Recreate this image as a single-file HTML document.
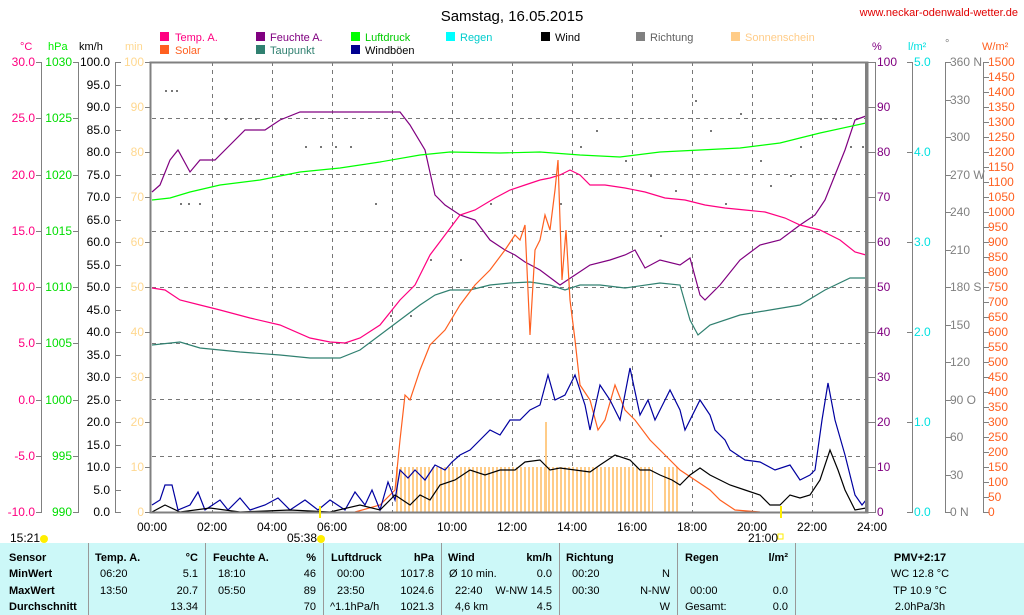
<!DOCTYPE html>
<html><head><meta charset="utf-8"><style>
body{margin:0;background:#fff;width:1024px;height:615px;overflow:hidden;font-family:"Liberation Sans",sans-serif}
svg{position:absolute;left:0;top:0}
text{font-family:"Liberation Sans",sans-serif;font-size:12px}
</style></head><body>
<svg width="1024" height="615" viewBox="0 0 1024 615">
<defs>
<pattern id="sun" width="4" height="10" patternUnits="userSpaceOnUse"><rect x="0" y="0" width="2" height="10" fill="#ffcc88"/></pattern>
</defs>
<text x="512" y="21" font-size="15" text-anchor="middle" style="font-size:15px">Samstag, 16.05.2015</text>
<text x="1018" y="16" text-anchor="end" fill="#e00000" style="font-size:11px">www.neckar-odenwald-wetter.de</text>
<!-- legend -->
<g style="font-size:11px">
<rect x="160" y="32" width="9" height="9" fill="#ff0080"/><text x="175" y="41" fill="#ff0080" style="font-size:11px">Temp. A.</text>
<rect x="256" y="32" width="9" height="9" fill="#800080"/><text x="270" y="41" fill="#800080" style="font-size:11px">Feuchte A.</text>
<rect x="351" y="32" width="9" height="9" fill="#00ff00"/><text x="365" y="41" fill="#00cc00" style="font-size:11px">Luftdruck</text>
<rect x="446" y="32" width="9" height="9" fill="#00ffff"/><text x="460" y="41" fill="#00cccc" style="font-size:11px">Regen</text>
<rect x="541" y="32" width="9" height="9" fill="#000"/><text x="555" y="41" style="font-size:11px">Wind</text>
<rect x="636" y="32" width="9" height="9" fill="#808080"/><text x="650" y="41" fill="#606060" style="font-size:11px">Richtung</text>
<rect x="731" y="32" width="9" height="9" fill="#ffcc88"/><text x="745" y="41" fill="#ffcc88" style="font-size:11px">Sonnenschein</text>
<rect x="160" y="45" width="9" height="9" fill="#ff6020"/><text x="175" y="54" fill="#ff6020" style="font-size:11px">Solar</text>
<rect x="256" y="45" width="9" height="9" fill="#308070"/><text x="270" y="54" fill="#308070" style="font-size:11px">Taupunkt</text>
<rect x="351" y="45" width="9" height="9" fill="#000090"/><text x="365" y="54" style="font-size:11px">Windböen</text>
</g>
<!-- axis titles -->
<text x="20" y="50" fill="#ff0080" style="font-size:11px">°C</text>
<text x="48" y="50" fill="#00ee00" style="font-size:11px">hPa</text>
<text x="79" y="50" style="font-size:11px">km/h</text>
<text x="125" y="50" fill="#ffd890" style="font-size:11px">min</text>
<text x="872" y="50" fill="#800080" style="font-size:11px">%</text>
<text x="908" y="50" fill="#00e0e0" style="font-size:11px">l/m²</text>
<text x="945" y="47" fill="#808080" style="font-size:11px">°</text>
<text x="982" y="50" fill="#ff6020" style="font-size:11px">W/m²</text>
<!-- grid -->
<g stroke="#777" stroke-dasharray="4,4" stroke-width="1">
<line x1="152" y1="118.5" x2="868" y2="118.5"/><line x1="152" y1="174.5" x2="868" y2="174.5"/><line x1="152" y1="231.5" x2="868" y2="231.5"/><line x1="152" y1="287.5" x2="868" y2="287.5"/><line x1="152" y1="343.5" x2="868" y2="343.5"/><line x1="152" y1="399.5" x2="868" y2="399.5"/><line x1="152" y1="456.5" x2="868" y2="456.5"/>
<line x1="212.5" y1="62" x2="212.5" y2="512"/><line x1="272.5" y1="62" x2="272.5" y2="512"/><line x1="332.5" y1="62" x2="332.5" y2="512"/><line x1="392.5" y1="62" x2="392.5" y2="512"/><line x1="452.5" y1="62" x2="452.5" y2="512"/><line x1="512.5" y1="62" x2="512.5" y2="512"/><line x1="572.5" y1="62" x2="572.5" y2="512"/><line x1="632.5" y1="62" x2="632.5" y2="512"/><line x1="692.5" y1="62" x2="692.5" y2="512"/><line x1="752.5" y1="62" x2="752.5" y2="512"/><line x1="812.5" y1="62" x2="812.5" y2="512"/>
</g>
<!-- sunshine -->
<rect x="395" y="467" width="258" height="45" fill="url(#sun)"/>
<rect x="663" y="467" width="16" height="45" fill="url(#sun)"/>
<rect x="545" y="422" width="2" height="90" fill="#ffcc88"/>
<!-- direction dots -->
<g fill="#777">
<rect x="165" y="90" width="2" height="2"/><rect x="171" y="90" width="2" height="2"/><rect x="176" y="90" width="2" height="2"/><rect x="180" y="203" width="2" height="2"/><rect x="188" y="203" width="2" height="2"/><rect x="199" y="203" width="2" height="2"/><rect x="225" y="118" width="2" height="2"/><rect x="240" y="118" width="2" height="2"/><rect x="255" y="118" width="2" height="2"/><rect x="305" y="146" width="2" height="2"/><rect x="320" y="146" width="2" height="2"/><rect x="335" y="146" width="2" height="2"/><rect x="350" y="146" width="2" height="2"/><rect x="375" y="203" width="2" height="2"/><rect x="390" y="315" width="2" height="2"/><rect x="410" y="315" width="2" height="2"/><rect x="430" y="259" width="2" height="2"/><rect x="460" y="259" width="2" height="2"/><rect x="490" y="203" width="2" height="2"/><rect x="560" y="203" width="2" height="2"/><rect x="580" y="146" width="2" height="2"/><rect x="596" y="130" width="2" height="2"/><rect x="625" y="160" width="2" height="2"/><rect x="650" y="175" width="2" height="2"/><rect x="660" y="235" width="2" height="2"/><rect x="675" y="190" width="2" height="2"/><rect x="695" y="100" width="2" height="2"/><rect x="710" y="130" width="2" height="2"/><rect x="725" y="203" width="2" height="2"/><rect x="740" y="113" width="2" height="2"/><rect x="760" y="160" width="2" height="2"/><rect x="770" y="185" width="2" height="2"/><rect x="790" y="175" width="2" height="2"/><rect x="800" y="146" width="2" height="2"/><rect x="820" y="118" width="2" height="2"/><rect x="835" y="118" width="2" height="2"/><rect x="850" y="146" width="2" height="2"/><rect x="862" y="146" width="2" height="2"/>
</g>
<g fill="none" stroke-width="1.2">
<polyline stroke="#800080" points="152,192 160,185 170,160 178,150 190,172 200,160 215,160 230,145 245,130 265,130 280,120 300,112 330,112 360,112 400,112 410,125 425,150 435,195 445,205 460,215 475,220 490,240 505,250 515,255 525,262 540,270 560,285 575,275 590,265 610,260 625,255 635,250 645,268 660,260 680,265 690,258 700,295 705,300 720,285 740,260 760,245 780,240 800,225 815,215 825,200 835,175 845,150 855,120 866,116"/>
<polyline stroke="#ff0080" points="152,288 165,290 180,300 200,305 220,310 250,318 280,325 310,338 330,342 345,343 360,338 380,325 400,300 415,285 430,255 445,235 460,215 475,210 495,198 510,190 525,185 540,180 550,178 560,175 570,170 580,175 590,185 605,185 625,188 645,192 665,198 685,200 705,205 725,208 745,210 765,212 785,218 800,225 820,230 840,240 855,252 866,255"/>
<polyline stroke="#00ff00" points="152,200 170,198 190,192 220,185 260,180 300,172 340,168 380,162 420,155 450,152 500,153 540,152 580,155 620,157 660,152 700,150 740,148 780,143 820,133 866,123"/>
<polyline stroke="#308070" points="152,345 180,342 200,348 240,352 280,355 310,358 340,358 360,350 380,335 400,320 420,305 435,295 450,290 470,290 490,285 510,283 530,282 550,285 565,290 580,285 600,285 625,288 660,283 680,285 690,320 698,335 710,325 740,315 770,310 800,305 825,290 850,278 866,278"/>
<polyline stroke="#ff6020" points="355,512 380,505 395,490 400,440 405,395 410,400 420,370 430,345 445,330 460,305 475,285 490,270 505,250 515,235 520,240 525,225 530,335 535,250 540,240 545,215 550,230 555,190 558,160 562,280 566,230 570,300 575,340 580,385 590,400 598,430 605,420 615,385 625,410 635,420 650,440 665,455 680,470 695,480 710,490 720,500 735,510 760,512"/>
<polyline stroke="#0000a0" points="152,505 160,500 165,485 172,485 178,510 190,505 198,492 205,510 220,500 228,510 240,498 250,510 265,505 278,498 290,510 305,500 318,510 330,500 345,510 355,492 365,505 372,490 380,510 388,482 395,500 400,470 408,478 415,470 425,480 435,465 445,470 452,462 460,455 470,450 480,440 490,430 500,435 510,420 520,420 530,410 540,405 548,375 555,400 565,395 575,375 585,405 590,430 600,385 610,400 620,420 630,368 640,415 648,400 655,420 665,400 670,390 680,410 685,430 700,400 710,415 715,430 725,440 730,450 745,460 760,462 775,470 790,465 800,480 810,475 815,470 822,420 828,383 835,420 845,455 855,495 862,505 866,500"/>
<polyline stroke="#000" points="152,512 165,505 180,512 210,508 240,512 290,510 330,512 360,505 380,510 395,495 410,505 420,495 430,500 440,485 455,480 470,470 485,475 500,470 515,470 525,462 540,460 550,470 560,468 575,470 590,472 600,465 615,455 630,460 640,470 650,470 660,475 672,480 680,485 690,475 700,468 710,475 720,480 730,485 745,490 760,495 770,505 780,505 790,495 800,498 810,495 820,480 830,450 838,470 845,490 855,510 866,508"/>
</g>
<!-- frame -->
<g stroke="#808080" fill="none">
<rect x="150.5" y="62.5" width="717" height="450" stroke-width="2"/>
<line x1="866" y1="62" x2="866" y2="512" stroke-width="2"/>
</g>
<!-- axes -->
<g stroke="#808080" stroke-width="1">
<line x1="41.5" y1="62" x2="41.5" y2="512"/><line x1="78.5" y1="62" x2="78.5" y2="512"/><line x1="115.5" y1="62" x2="115.5" y2="512"/>
<line x1="875.5" y1="62" x2="875.5" y2="512"/><line x1="912.5" y1="62" x2="912.5" y2="512"/><line x1="945.5" y1="62" x2="945.5" y2="512"/><line x1="983.5" y1="62" x2="983.5" y2="512"/>
</g>
<g id="ticks" stroke="#808080"></g>
<g id="labels"></g>
<!-- x labels -->
<g text-anchor="middle">
<text x="152" y="531">00:00</text><text x="212" y="531">02:00</text><text x="272" y="531">04:00</text><text x="332" y="531">06:00</text><text x="392" y="531">08:00</text><text x="452" y="531">10:00</text><text x="512" y="531">12:00</text><text x="572" y="531">14:00</text><text x="632" y="531">16:00</text><text x="692" y="531">18:00</text><text x="752" y="531">20:00</text><text x="812" y="531">22:00</text><text x="872" y="531">24:00</text>
</g>
<rect x="319" y="506" width="2" height="12" fill="#ffee00"/>
<rect x="780" y="506" width="2" height="12" fill="#ffee00"/>
<text x="10" y="542">15:21</text><circle cx="44" cy="539" r="4" fill="#ffee00"/>
<text x="287" y="542">05:38</text><circle cx="321" cy="539" r="4" fill="#ffee00"/>
<text x="748" y="542">21:00</text><rect x="778" y="534" width="5" height="5" fill="none" stroke="#ffee00"/>
<!-- table -->
<rect x="0" y="543" width="1024" height="72" fill="#ccf8f8"/>
<g stroke="#999" stroke-width="1"><line x1="88.5" y1="543" x2="88.5" y2="615"/><line x1="205.5" y1="543" x2="205.5" y2="615"/><line x1="323.5" y1="543" x2="323.5" y2="615"/><line x1="441.5" y1="543" x2="441.5" y2="615"/><line x1="559.5" y1="543" x2="559.5" y2="615"/><line x1="677.5" y1="543" x2="677.5" y2="615"/><line x1="795.5" y1="543" x2="795.5" y2="615"/></g>
<g style="font-size:11px">
<g font-weight="bold"><text x="9" y="561" style="font-size:11px;font-weight:bold">Sensor</text><text x="9" y="577" style="font-size:11px;font-weight:bold">MinWert</text><text x="9" y="594" style="font-size:11px;font-weight:bold">MaxWert</text><text x="9" y="610" style="font-size:11px;font-weight:bold">Durchschnitt</text>
<text x="95" y="561" style="font-size:11px;font-weight:bold">Temp. A.</text><text x="198" y="561" text-anchor="end" style="font-size:11px;font-weight:bold">°C</text>
<text x="213" y="561" style="font-size:11px;font-weight:bold">Feuchte A.</text><text x="316" y="561" text-anchor="end" style="font-size:11px;font-weight:bold">%</text>
<text x="331" y="561" style="font-size:11px;font-weight:bold">Luftdruck</text><text x="434" y="561" text-anchor="end" style="font-size:11px;font-weight:bold">hPa</text>
<text x="448" y="561" style="font-size:11px;font-weight:bold">Wind</text><text x="552" y="561" text-anchor="end" style="font-size:11px;font-weight:bold">km/h</text>
<text x="566" y="561" style="font-size:11px;font-weight:bold">Richtung</text>
<text x="685" y="561" style="font-size:11px;font-weight:bold">Regen</text><text x="788" y="561" text-anchor="end" style="font-size:11px;font-weight:bold">l/m²</text>
<text x="920" y="561" text-anchor="middle" style="font-size:11px;font-weight:bold">PMV+2:17</text></g>
<text x="100" y="577" style="font-size:11px">06:20</text><text x="198" y="577" text-anchor="end" style="font-size:11px">5.1</text>
<text x="100" y="594" style="font-size:11px">13:50</text><text x="198" y="594" text-anchor="end" style="font-size:11px">20.7</text>
<text x="198" y="610" text-anchor="end" style="font-size:11px">13.34</text>
<text x="218" y="577" style="font-size:11px">18:10</text><text x="316" y="577" text-anchor="end" style="font-size:11px">46</text>
<text x="218" y="594" style="font-size:11px">05:50</text><text x="316" y="594" text-anchor="end" style="font-size:11px">89</text>
<text x="316" y="610" text-anchor="end" style="font-size:11px">70</text>
<text x="337" y="577" style="font-size:11px">00:00</text><text x="434" y="577" text-anchor="end" style="font-size:11px">1017.8</text>
<text x="337" y="594" style="font-size:11px">23:50</text><text x="434" y="594" text-anchor="end" style="font-size:11px">1024.6</text>
<text x="330" y="610" style="font-size:11px">^1.1hPa/h</text><text x="434" y="610" text-anchor="end" style="font-size:11px">1021.3</text>
<text x="449" y="577" style="font-size:11px">Ø 10 min.</text><text x="552" y="577" text-anchor="end" style="font-size:11px">0.0</text>
<text x="455" y="594" style="font-size:11px">22:40</text><text x="552" y="594" text-anchor="end" style="font-size:11px">W-NW 14.5</text>
<text x="455" y="610" style="font-size:11px">4,6 km</text><text x="552" y="610" text-anchor="end" style="font-size:11px">4.5</text>
<text x="572" y="577" style="font-size:11px">00:20</text><text x="670" y="577" text-anchor="end" style="font-size:11px">N</text>
<text x="572" y="594" style="font-size:11px">00:30</text><text x="670" y="594" text-anchor="end" style="font-size:11px">N-NW</text>
<text x="670" y="610" text-anchor="end" style="font-size:11px">W</text>
<text x="690" y="594" style="font-size:11px">00:00</text><text x="788" y="594" text-anchor="end" style="font-size:11px">0.0</text>
<text x="685" y="610" style="font-size:11px">Gesamt:</text><text x="788" y="610" text-anchor="end" style="font-size:11px">0.0</text>
<text x="920" y="577" text-anchor="middle" style="font-size:11px">WC 12.8 °C</text>
<text x="920" y="594" text-anchor="middle" style="font-size:11px">TP 10.9 °C</text>
<text x="920" y="610" text-anchor="middle" style="font-size:11px">2.0hPa/3h</text>
</g>
</svg>
<script>
var ns="http://www.w3.org/2000/svg",T=document.getElementById("ticks"),L=document.getElementById("labels");
function tk(x1,x2,y){var l=document.createElementNS(ns,"line");l.setAttribute("x1",x1);l.setAttribute("x2",x2);l.setAttribute("y1",y+.5);l.setAttribute("y2",y+.5);T.appendChild(l);}
function lb(x,y,s,c,a){var t=document.createElementNS(ns,"text");t.setAttribute("x",x);t.setAttribute("y",y+4);t.setAttribute("fill",c);t.setAttribute("text-anchor",a);t.textContent=s;L.appendChild(t);}
var i,y;
for(i=0;i<=8;i++){y=Math.round(62+i*56.25);tk(36,42,y);lb(35,y,(30-5*i).toFixed(1),"#ff0080","end");tk(73,79,y);lb(72,y,String(1030-5*i),"#00dd00","end");}
for(i=0;i<=20;i++){y=Math.round(62+i*22.5);tk(115,121,y);lb(110,y,(100-5*i).toFixed(1),"#000","end");}
for(i=0;i<=10;i++){y=Math.round(62+i*45);tk(145,151,y);lb(144,y,String(100-10*i),"#ffd890","end");tk(868,876,y);lb(877,y,String(100-10*i),"#800080","start");}
for(i=0;i<=5;i++){y=Math.round(62+i*90);tk(907,913,y);lb(914,y,(5-i).toFixed(1),"#00e0e0","start");}
var dn={0:" N",3:" W",6:" S",9:" O",12:" N"};
for(i=0;i<=12;i++){y=Math.round(62+i*37.5);tk(945,951,y);lb(950,y,String(360-30*i)+(dn[i]||""),"#808080","start");}
for(i=0;i<=30;i++){y=Math.round(62+i*15);tk(983,989,y);lb(988,y,String(1500-50*i),"#ff6020","start");}
</script>
</body></html>
